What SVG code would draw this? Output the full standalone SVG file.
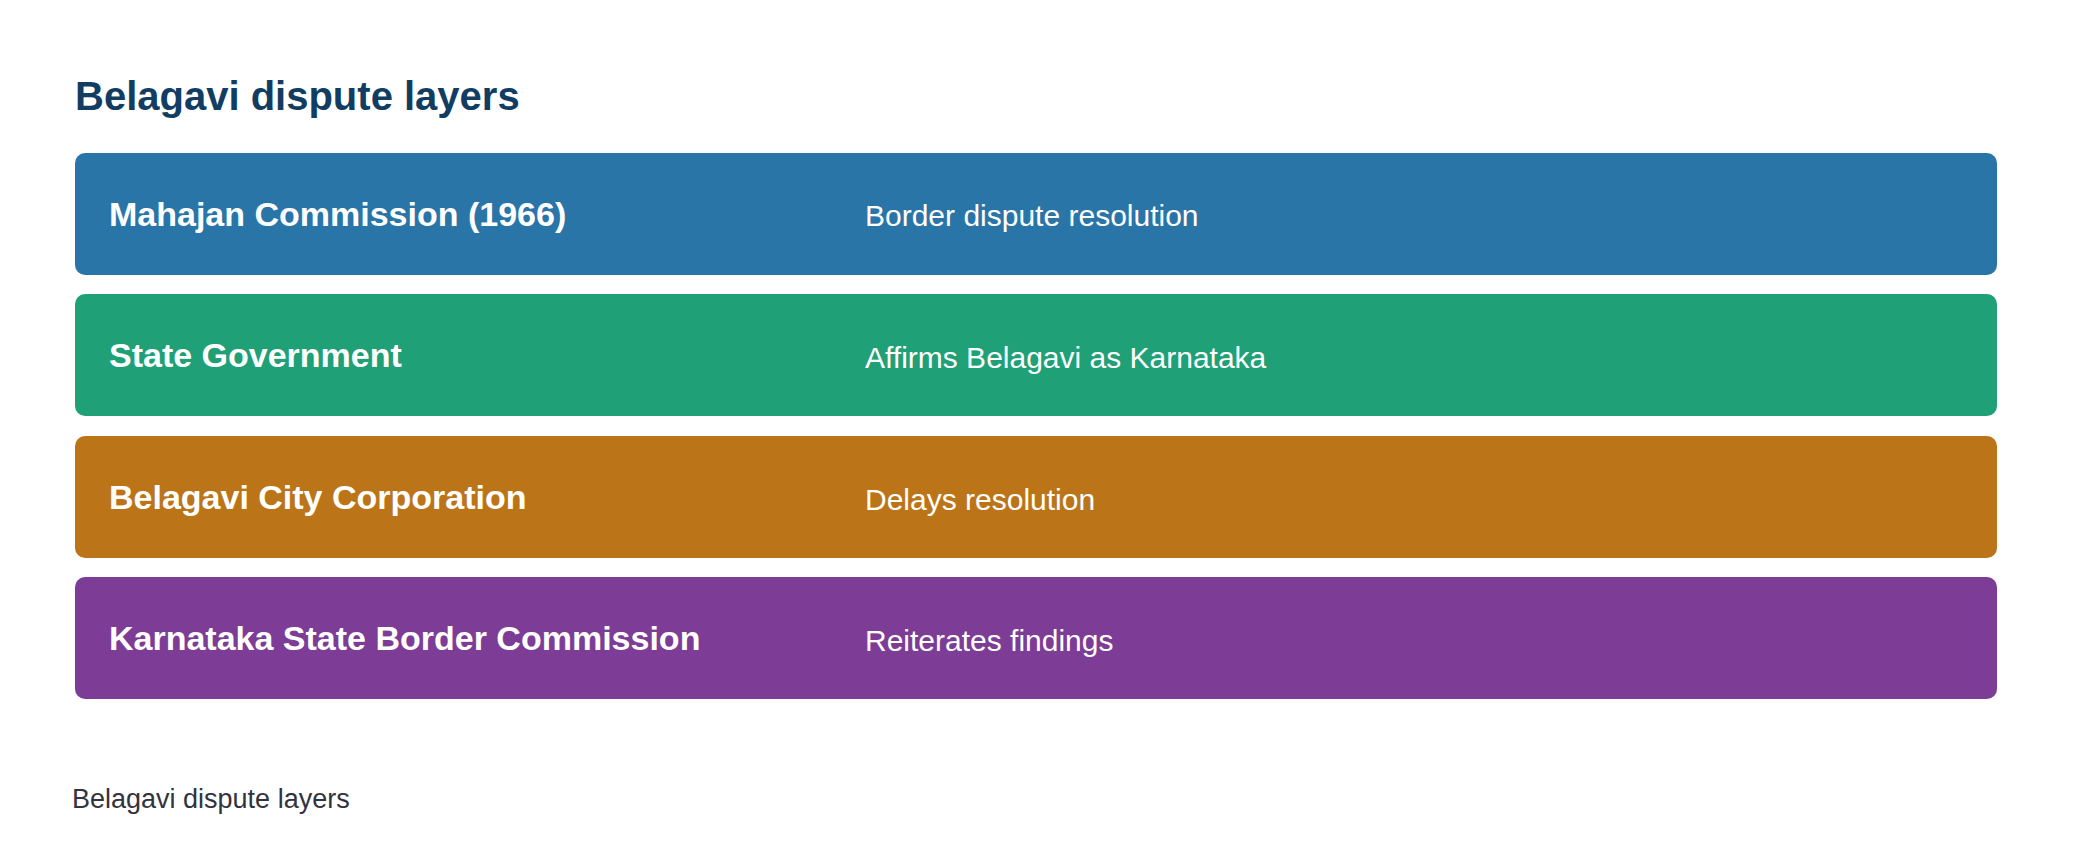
<svg xmlns="http://www.w3.org/2000/svg" width="2080" height="864" viewBox="0 0 2080 864">
<style>
.t{font-family:"Liberation Sans",Arial,sans-serif;font-weight:bold;font-size:40px;fill:#123d63}
.l{font-family:"Liberation Sans",Arial,sans-serif;font-weight:bold;font-size:34px;fill:#fff}
.d{font-family:"Liberation Sans",Arial,sans-serif;font-size:30px;fill:#fff}
.f{font-family:"Liberation Sans",Arial,sans-serif;font-size:27px;fill:#333340}
</style>
<rect width="2080" height="864" fill="#fff"/>
<text class="t" x="75" y="110">Belagavi dispute layers</text>
<g id="n1"><rect x="75" y="153" width="1922" height="122" rx="10" fill="#2a75a8"/><text class="l" x="109" y="226">Mahajan Commission (1966)</text><text class="d" x="865" y="226">Border dispute resolution</text></g>
<g id="n2"><rect x="75" y="294" width="1922" height="122" rx="10" fill="#1fa077"/><text class="l" x="109" y="367">State Government</text><text class="d" x="865" y="368">Affirms Belagavi as Karnataka</text></g>
<g id="n3"><rect x="75" y="436" width="1922" height="122" rx="10" fill="#bb7518"/><text class="l" x="109" y="509">Belagavi City Corporation</text><text class="d" x="865" y="510">Delays resolution</text></g>
<g id="n4"><rect x="75" y="577" width="1922" height="122" rx="10" fill="#7d3c96"/><text class="l" x="109" y="650">Karnataka State Border Commission</text><text class="d" x="865" y="651">Reiterates findings</text></g>
<g id="connectors"/>
<text class="f" x="72" y="808">Belagavi dispute layers</text>
</svg>
